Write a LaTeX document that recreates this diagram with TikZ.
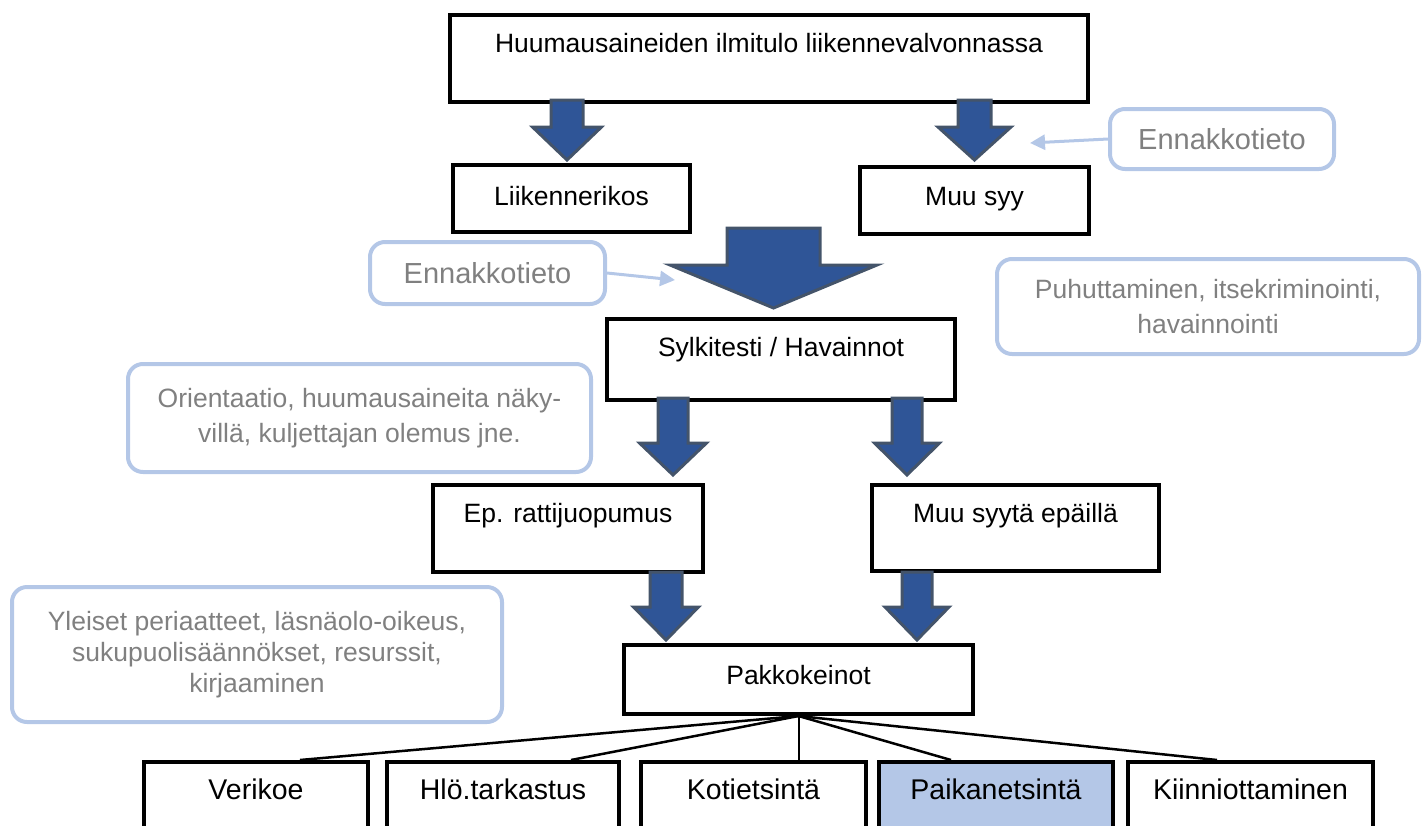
\documentclass[tikz,border=0pt]{standalone}
\usepackage{fontspec}
\setmainfont{Liberation Sans}
\usetikzlibrary{arrows.meta}

\definecolor{noteblue}{HTML}{B4C7E7}
\definecolor{notegray}{HTML}{808080}
\definecolor{arrowfill}{HTML}{2F5597}
\definecolor{arrowline}{HTML}{44546A}

\tikzset{
  box/.style={draw, line width=4pt, inner sep=0pt, anchor=north west,
    font=\fontsize{26.5}{32}\selectfont},
  endbox/.style={box, text height=37pt, text depth=60pt,
    font=\fontsize{28.5}{34}\selectfont},
  note/.style={draw=noteblue, line width=4pt, rounded corners=15pt, text=notegray,
    align=center, inner sep=0pt, anchor=north west},
  blockarrow/.style={fill=arrowfill, draw=arrowline, line width=3pt},
  hint/.style={draw=noteblue, line width=3pt, -{Triangle[length=15pt,width=15pt]}},
  link/.style={black, line width=2.5pt}
}

% down arrow: centre x, top y, wing y, tip y, half shaft, half head
\newcommand{\blkarrow}[6]{%
  \filldraw[blockarrow] ({#1-#5},#2) -- ({#1+#5},#2) -- ({#1+#5},#3) -- ({#1+#6},#3)
    -- (#1,#4) -- ({#1-#6},#3) -- ({#1-#5},#3) -- cycle;}

\begin{document}
\begin{tikzpicture}[x=1pt, y=-1pt]
    \clip (0,0) rectangle (1424,825);

    % main boxes
    \node[box, minimum width=638pt, text height=37pt, text depth=50pt] (ilmitulo) at (448,13) {Huumausaineiden ilmitulo liikennevalvonnassa};
    \node[box, minimum width=237pt, text height=40pt, text depth=27pt] (liikenne) at (451,163) {Liikennerikos};
    \node[box, minimum width=229pt, text height=38pt, text depth=29pt] (muusyy) at (858,165) {Muu syy};
    \node[box, minimum width=348pt, text height=37pt, text depth=44pt] (sylki) at (605,317) {Sylkitesti / Havainnot};
    \node[box, minimum width=270pt, text height=37pt, text depth=50pt] (rattijuo) at (431,483) {Ep. rattijuopumus};
    \node[box, minimum width=287pt, text height=37pt, text depth=49pt] (muuepa) at (870,483) {Muu syytä epäillä};
    \node[box, minimum width=349pt, text height=39pt, text depth=30pt] (pakko) at (622,643) {Pakkokeinot};

    % bottom row
    \node[endbox, minimum width=224pt] (verikoe) at (142,760) {Verikoe};
    \node[endbox, minimum width=232pt] (hlo) at (385,760) {Hlö.tarkastus};
    \node[endbox, minimum width=225pt] (koti) at (639,760) {Kotietsintä};
    \node[endbox, minimum width=234pt, fill=noteblue] (paikka) at (877,760) {Paikanetsintä};
    \node[endbox, minimum width=245pt] (kiinni) at (1126,760) {Kiinniottaminen};

    % notes
    \node[note, minimum width=224pt, minimum height=60pt, font=\fontsize{29}{34}\selectfont] (ennakkoR) at (1108,107) {Ennakkotieto};
    \node[note, minimum width=235pt, minimum height=62pt, font=\fontsize{29}{34}\selectfont] (ennakkoL) at (368,240) {Ennakkotieto};
    \node[note, minimum width=422pt, minimum height=95pt, font=\fontsize{26.5}{35}\selectfont] (puhu) at (995,257) {Puhuttaminen, itsekriminointi,\\havainnointi};
    \node[note, minimum width=463pt, minimum height=108pt, font=\fontsize{26.5}{35}\selectfont] (orient) at (126,362) {Orientaatio, huumausaineita näky-\\villä, kuljettajan olemus jne.};
    \node[note, minimum width=490pt, minimum height=135pt, font=\fontsize{26.5}{31}\selectfont] (yleiset) at (10,585) {Yleiset periaatteet, läsnäolo-oikeus,\\sukupuolisäännökset, resurssit,\\kirjaaminen};

    % block arrows
    \blkarrow{567}{100}{127}{160}{16}{34.5}
    \blkarrow{974.5}{100}{127}{160}{16.5}{36.5}
    \blkarrow{773.5}{228}{265}{308}{46.5}{103.5}
    \blkarrow{673}{398}{443}{475}{15}{33.5}
    \blkarrow{907}{398}{443}{475}{15}{32.5}
    \blkarrow{666}{572}{607}{640}{16}{32.5}
    \blkarrow{917}{572}{607}{640}{15}{32}

    % hint arrows
    \coordinate (tipR) at (1030,143);
    \coordinate (tipL) at (675,280);
    \draw[hint] (ennakkoR.west) -- (tipR);
    \draw[hint] (ennakkoL.east) -- (tipL);

    % links to bottom row
    \draw[link] (pakko.south) -- ([xshift=44pt]verikoe.north);
    \draw[link] (pakko.south) -- ([xshift=68pt]hlo.north);
    \draw[link, line width=2pt] (pakko.south) -- (pakko.south |- koti.north);
    \draw[link] (pakko.south) -- ([xshift=-45pt]paikka.north);
    \draw[link] (pakko.south) -- ([xshift=-33.5pt]kiinni.north);
\end{tikzpicture}
\end{document}
